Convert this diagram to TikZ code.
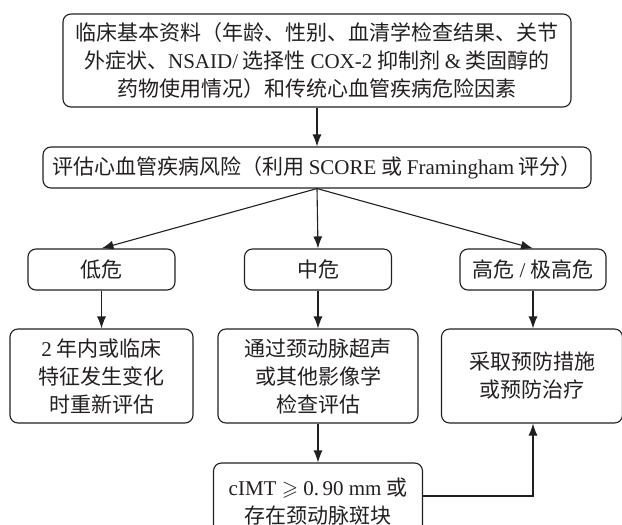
\documentclass[tikz,border=0pt]{standalone}
\usepackage{fontspec}
\usepackage{amssymb}
\setmainfont{Liberation Serif}
\newfontfamily\cjk{Noto Sans CJK SC}
\usetikzlibrary{arrows.meta}
% Latin words inside Chinese text are set in the serif face
\newcommand\lat[1]{{\rmfamily #1}}
\definecolor{ink}{HTML}{231F20}
\begin{document}
\begin{tikzpicture}[x=1pt,y=-1pt,
  box/.style={draw=ink, text=ink, rounded corners=8pt, line width=1.1pt,
    inner sep=0pt, align=center, font=\cjk\fontsize{21}{28}\selectfont},
  arr/.style={draw=ink, line width=1.1pt, -{Latex[length=12pt,width=9pt]}}]
\clip (0,0) rectangle (622,525);

% clinical data and risk assessment
\node[box, minimum width=508pt, minimum height=93pt] (clin) at (317,60.5)
  {临床基本资料（年龄、性别、血清学检查结果、关节\\外症状、\lat{NSAID/} 选择性 \lat{COX-2} 抑制剂 \lat{\&} 类固醇的\\药物使用情况）和传统心血管疾病危险因素};
\node[box, minimum width=548pt, minimum height=41pt] (score) at (317,167.5)
  {评估心血管疾病风险（利用 \lat{SCORE} 或 \lat{Framingham} 评分）};

% risk levels
\node[box, minimum width=147pt, minimum height=41pt] (low) at (101.5,269.5) {低危};
\node[box, minimum width=147pt, minimum height=41pt] (mid) at (318,269.5) {中危};
\node[box, minimum width=146pt, minimum height=41pt] (high) at (533,269.5) {高危 \lat{/} 极高危};

% actions
\node[box, minimum width=183pt, minimum height=94pt] (relow) at (101.5,376)
  {\lat{2} 年内或临床\\特征发生变化\\时重新评估};
\node[box, minimum width=200pt, minimum height=94pt] (image) at (318,376)
  {通过颈动脉超声\\或其他影像学\\检查评估};
\node[box, minimum width=181pt, minimum height=94pt] (prev) at (532,376)
  {采取预防措施\\或预防治疗};
\node[box, minimum width=209pt, minimum height=77pt] (cimt) at (318,501.5)
  {\lat{cIMT $\geqslant$ 0.\,90 mm} 或\\存在颈动脉斑块};

% connectors
\draw[arr] (clin) -- (score);
\draw[arr] (score.south) -- (low.north);
\draw[arr] (score.south) -- (mid.north);
\draw[arr] (score.south) -- (high.north);
\draw[arr] (low) -- (relow);
\draw[arr] (mid) -- (image);
\draw[arr] (high.south) -- (high.south |- prev.north);
\draw[arr] (image) -- (cimt);
\coordinate (turn) at (533,496);
\draw[arr] (cimt.east |- turn) -- (turn) -- (turn |- prev.south);
\end{tikzpicture}
\end{document}
